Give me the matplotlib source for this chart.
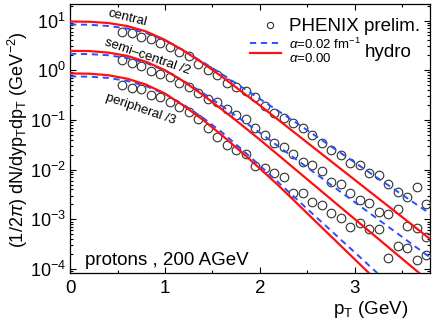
import numpy as np
import matplotlib
matplotlib.use("Agg")
import matplotlib.pyplot as plt
from matplotlib.ticker import LogLocator, MultipleLocator, NullFormatter

plt.rcParams['font.family'] = ['Liberation Sans', 'DejaVu Sans']
plt.rcParams['mathtext.fontset'] = 'custom'
plt.rcParams['mathtext.rm'] = 'Liberation Sans'
plt.rcParams['mathtext.it'] = 'Liberation Sans:italic'
plt.rcParams['mathtext.bf'] = 'Liberation Sans:bold'

# ---- hydro curves (pT grid) ----
pt_curve = [0.0, 0.2, 0.4, 0.6, 0.8, 1.0, 1.2, 1.4, 1.6, 1.8, 2.0, 2.2, 2.4, 2.6, 2.8, 3.0, 3.2, 3.4, 3.6, 3.8]
central_ideal = [9.55, 9.44, 8.91, 7.76, 6.03, 4.07, 2.45, 1.38, 0.741, 0.380, 0.195, 0.0977, 0.0490, 0.0245,
                 0.0123, 0.00617, 0.00309, 0.00155, 7.76e-4, 3.89e-4]
central_visc = [8.32, 8.22, 7.76, 6.92, 5.62, 3.98, 2.45, 1.45, 0.832, 0.468, 0.263, 0.148, 0.0832, 0.0457,
                0.0251, 0.0138, 0.00759, 0.00417, 0.00229, 0.00126]
semi_ideal = [2.45, 2.43, 2.26, 1.95, 1.48, 1.00, 0.589, 0.316, 0.162, 0.0813, 0.0398, 0.0191, 0.00912, 0.00437,
              0.00209, 0.00100, 4.79e-4, 2.29e-4, 1.10e-4, 5.25e-5]
semi_visc = [2.14, 2.11, 2.00, 1.76, 1.40, 0.977, 0.603, 0.347, 0.191, 0.102, 0.0550, 0.0288, 0.0151, 0.00794,
             0.00417, 0.00219, 0.00115, 6.03e-4, 3.16e-4, 1.66e-4]
periph_ideal = [0.861, 0.851, 0.794, 0.676, 0.513, 0.339, 0.191, 0.100, 0.0490, 0.0229, 0.0105, 0.00468, 0.00200,
                8.51e-4, 3.63e-4, 1.55e-4, 6.61e-5, 2.82e-5, 1.20e-5, 5.13e-6]
periph_visc = [0.750, 0.741, 0.700, 0.610, 0.479, 0.331, 0.200, 0.110, 0.0562, 0.0263, 0.0120, 0.00537, 0.00240,
               0.00107, 4.79e-4, 2.14e-4, 9.55e-5, 4.27e-5, 1.91e-5, 8.51e-6]

# ---- PHENIX preliminary data ----
pt_data = [0.55, 0.65, 0.75, 0.85, 0.95, 1.05, 1.15, 1.25, 1.35, 1.45, 1.55, 1.65, 1.75, 1.85, 1.95, 2.05, 2.15,
           2.25, 2.35, 2.45, 2.55, 2.65, 2.75, 2.85, 2.95, 3.05, 3.15, 3.25, 3.35, 3.45, 3.55, 3.65, 3.75]
data_central = [5.96, 5.52, 4.73, 4.18, 3.58, 2.98, 2.36, 1.93, 1.31, 1.01, 0.80, 0.544, 0.466, 0.388, 0.294,
                0.191, 0.136, 0.108, 0.0853, 0.0676, 0.0497, 0.0348, 0.0248, 0.0197, 0.0138, 0.0124, 0.00841,
                0.00780, 0.00513, 0.00360, 0.00285, 0.00440, 0.00203]
data_semi = [1.60, 1.42, 1.22, 0.98, 0.84, 0.72, 0.56, 0.45, 0.343, 0.26, 0.233, 0.163, 0.126, 0.104, 0.0676,
             0.0497, 0.0337, 0.0289, 0.0206, 0.0140, 0.0124, 0.00952, 0.00572, 0.00513, 0.00344, 0.00245,
             0.00209, 0.00142, 0.00128, 0.00159, 7.3e-4, 6.6e-4, 4.5e-4]
data_periph = [0.50, 0.43, 0.41, 0.317, 0.293, 0.233, 0.185, 0.146, 0.102, 0.068, 0.0446, 0.0313, 0.0248, 0.0206,
               0.0120, 0.0106, 0.0084, 0.0072, 0.00333, 0.00344, 0.00226, 0.00194, 0.00136, 0.00105, 7.1e-4,
               8.6e-4, 6.3e-4, 6.3e-4, 1.69e-4, 2.9e-4, 2.6e-4, 1.52e-4, 1.91e-4]

RED = '#ff1010'
BLUE = '#2850ff'

fig = plt.figure(figsize=(4.36, 3.27), dpi=100)
ax = fig.add_axes([0.1606, 0.1642, 0.8256, 0.8236])

for d in (data_central, data_semi, data_periph):
    ax.plot(pt_data, d, ls='none', marker='o', ms=6.2, mfc='none', mec='#303030', mew=0.8, zorder=3)

for c in (central_visc, semi_visc, periph_visc):
    ax.plot(pt_curve, c, color=BLUE, lw=1.4, ls=(0, (3.2, 2.4)), zorder=4)
for c in (central_ideal, semi_ideal, periph_ideal):
    ax.plot(pt_curve, c, color=RED, lw=1.6, zorder=5)

ax.set_yscale('log')
ax.set_xlim(0, 3.79)
ax.set_ylim(8.18e-5, 21.5)

ax.xaxis.set_major_locator(MultipleLocator(1))
ax.xaxis.set_minor_locator(MultipleLocator(0.5))
ax.yaxis.set_major_locator(LogLocator(base=10, numticks=20))
ax.yaxis.set_minor_locator(LogLocator(base=10, subs=np.arange(2, 10), numticks=20))
ax.yaxis.set_minor_formatter(NullFormatter())

ax.tick_params(which='both', direction='in', top=True, right=True, width=0.8)
ax.tick_params(which='major', length=4.0)
ax.tick_params(which='minor', length=2.0)
ax.tick_params(axis='x', labelsize=13.5, pad=5)
ax.tick_params(axis='y', labelsize=13, pad=3)
for s in ax.spines.values():
    s.set_linewidth(0.9)

# curve labels
ax.text(0.61, 11.2, 'central', fontsize=9.5, rotation=-14, ha='center', va='center')
ax.text(0.82, 1.85, 'semi\u2013central /2', fontsize=9.5, rotation=-19, ha='center', va='center')
ax.text(0.74, 0.166, 'peripheral /3', fontsize=9.5, rotation=-19, ha='center', va='center')

ax.text(0.042, 0.031, 'protons , 200 AGeV', fontsize=13.5, transform=ax.transAxes, ha='left', va='baseline')

# legend drawn by hand
ax.plot([0.556], [0.922], transform=ax.transAxes, ls='none', marker='o', ms=4.5, mfc='none',
        mec='#303030', mew=0.8, clip_on=False)
ax.text(0.608, 0.899, 'PHENIX prelim.', fontsize=13.5, transform=ax.transAxes, ha='left', va='baseline')
ax.plot([0.50, 0.586], [0.854, 0.854], transform=ax.transAxes, color=BLUE, lw=1.4, ls=(0, (3.2, 2.4)))
ax.plot([0.50, 0.586], [0.817, 0.817], transform=ax.transAxes, color=RED, lw=1.6)
ax.text(0.608, 0.834, r'$\alpha$=0.02 fm$^{-1}$', fontsize=9.5, transform=ax.transAxes, ha='left', va='baseline')
ax.text(0.608, 0.786, r'$\alpha$=0.00', fontsize=9.5, transform=ax.transAxes, ha='left', va='baseline')
ax.text(0.818, 0.803, 'hydro', fontsize=13.5, transform=ax.transAxes, ha='left', va='baseline')

fig.text(0.041, 0.572, r'(1/2$\pi$) dN/dyp$_\mathregular{T}$dp$_\mathregular{T}$ (GeV$^{-2}$)', fontsize=13,
         rotation=90, ha='center', va='center')
fig.text(0.936, 0.040, r'p$_\mathregular{T}$ (GeV)', fontsize=13.5, ha='right', va='baseline')

fig.savefig('out.png', dpi=100)
